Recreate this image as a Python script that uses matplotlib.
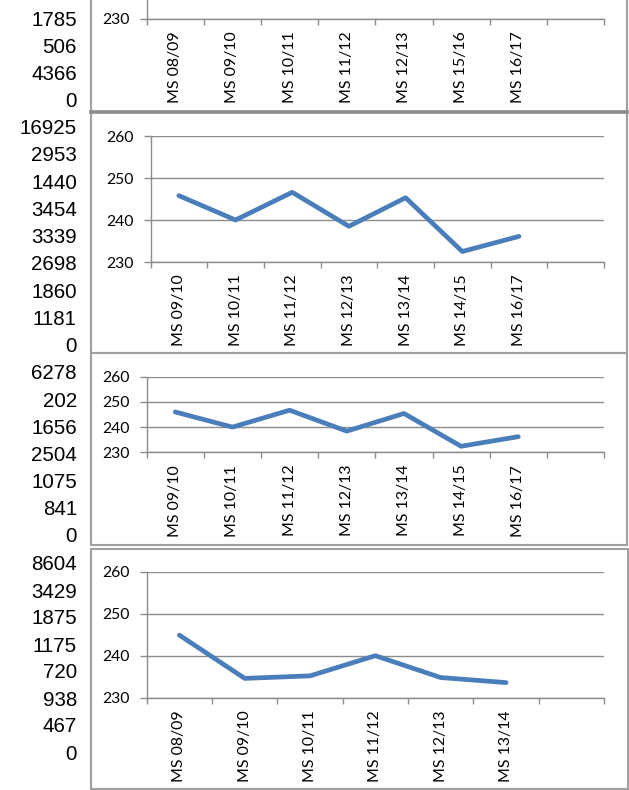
import matplotlib
matplotlib.use("Agg")
import matplotlib.pyplot as plt
from matplotlib.patches import Rectangle
from matplotlib.lines import Line2D

W, H = 629, 790

# spreadsheet column to the left of the charts
col_top = ["1785", "506", "4366", "0"]
col_mid1 = ["16925", "2953", "1440", "3454", "3339", "2698", "1860", "1181", "0"]
col_mid2 = ["6278", "202", "1656", "2504", "1075", "841", "0"]
col_bottom = ["8604", "3429", "1875", "1175", "720", "938", "467", "0"]

# chart categories and values
labels_1 = ["MS 08/09", "MS 09/10", "MS 10/11", "MS 11/12", "MS 12/13", "MS 15/16", "MS 16/17", ""]
labels_2 = ["MS 09/10", "MS 10/11", "MS 11/12", "MS 12/13", "MS 13/14", "MS 14/15", "MS 16/17", ""]
values_2 = [245.8, 240.0, 246.6, 238.5, 245.3, 232.5, 236.1]
labels_3 = ["MS 09/10", "MS 10/11", "MS 11/12", "MS 12/13", "MS 13/14", "MS 14/15", "MS 16/17", ""]
values_3 = [246.0, 240.0, 246.7, 238.4, 245.4, 232.4, 236.2]
labels_4 = ["MS 08/09", "MS 09/10", "MS 10/11", "MS 11/12", "MS 12/13", "MS 13/14", ""]
values_4 = [244.9, 234.6, 235.2, 240.0, 234.8, 233.6]
y_ticks = [230, 240, 250, 260]

LINE_BLUE = "#4A7EBB"
GRID = "#8C8C8C"
BORDER = "#A0A0A0"
TICK_FONT = "Lato"

fig = plt.figure(figsize=(W / 100, H / 100), dpi=100)


def fx(x):
    return x / W


def fy(y):
    return 1 - y / H


def chart(left, top, right, bottom, labels, values, yt=y_ticks):
    ax = fig.add_axes([fx(left), fy(bottom), fx(right - left), (bottom - top) / H])
    n = len(labels)
    if values:
        ax.plot(range(len(values)), values, color=LINE_BLUE, lw=3.4,
                solid_capstyle="round", solid_joinstyle="round", zorder=3)
    ax.set_xlim(-0.5, n - 0.5)
    ax.set_ylim(230, 260)
    ax.set_yticks(yt)
    ax.set_yticklabels([str(t) for t in yt], fontsize=11.3, family=TICK_FONT)
    ax.set_xticks([i - 0.5 for i in range(n + 1)])
    ax.set_xticklabels([])
    ax.set_xticks(range(n), minor=True)
    ax.set_xticklabels(labels, minor=True, rotation=90, fontsize=11.4,
                       family=TICK_FONT, va="top")
    ax.tick_params(axis="x", which="major", length=4, width=1, color=GRID, direction="out")
    ax.tick_params(axis="x", which="minor", length=0, pad=9)
    ax.tick_params(axis="y", length=5, width=1, color=GRID, pad=7)
    ax.grid(axis="y", color=GRID, lw=1)
    ax.set_axisbelow(True)
    for side in ("top", "right"):
        ax.spines[side].set_visible(False)
    for side in ("left", "bottom"):
        ax.spines[side].set_color(GRID)
        ax.spines[side].set_linewidth(1)
    ax.patch.set_alpha(0)
    return ax


# top chart is cut off by the sheet edge; only its axis foot shows
chart(146.7, -107, 604, 19, labels_1, [], yt=[230])
chart(150.5, 136, 604, 262, labels_2, values_2)
chart(146.7, 376.7, 604, 452.3, labels_3, values_3)
chart(146.7, 571.7, 604, 697.7, labels_4, values_4)

# chart frames
boxes = [(91, -5, 627, 112), (91, 112, 627, 353), (91, 353, 627, 544.5), (91, 549, 628, 789)]
for l, t, r, b in boxes:
    fig.add_artist(Rectangle((fx(l), fy(b)), fx(r - l), (b - t) / H, transform=fig.transFigure,
                             fill=False, edgecolor=BORDER, lw=1.5, zorder=5))
fig.add_artist(Line2D([fx(91), fx(627)], [fy(112), fy(112)], transform=fig.transFigure,
                      color="#8C8C8C", lw=2.6, zorder=6))

# numbers in the sheet column
for texts, start, step in [(col_top, 20, 27.2), (col_mid1, 128.5, 27.3),
                           (col_mid2, 373.8, 27.2), (col_bottom, 565, 27.0)]:
    for i, s in enumerate(texts):
        fig.text(fx(77), fy(start + step * i), s, ha="right", va="center",
                 fontsize=14.8, family="Liberation Sans", color="black")

fig.savefig("out.png", dpi=100, facecolor="white")
